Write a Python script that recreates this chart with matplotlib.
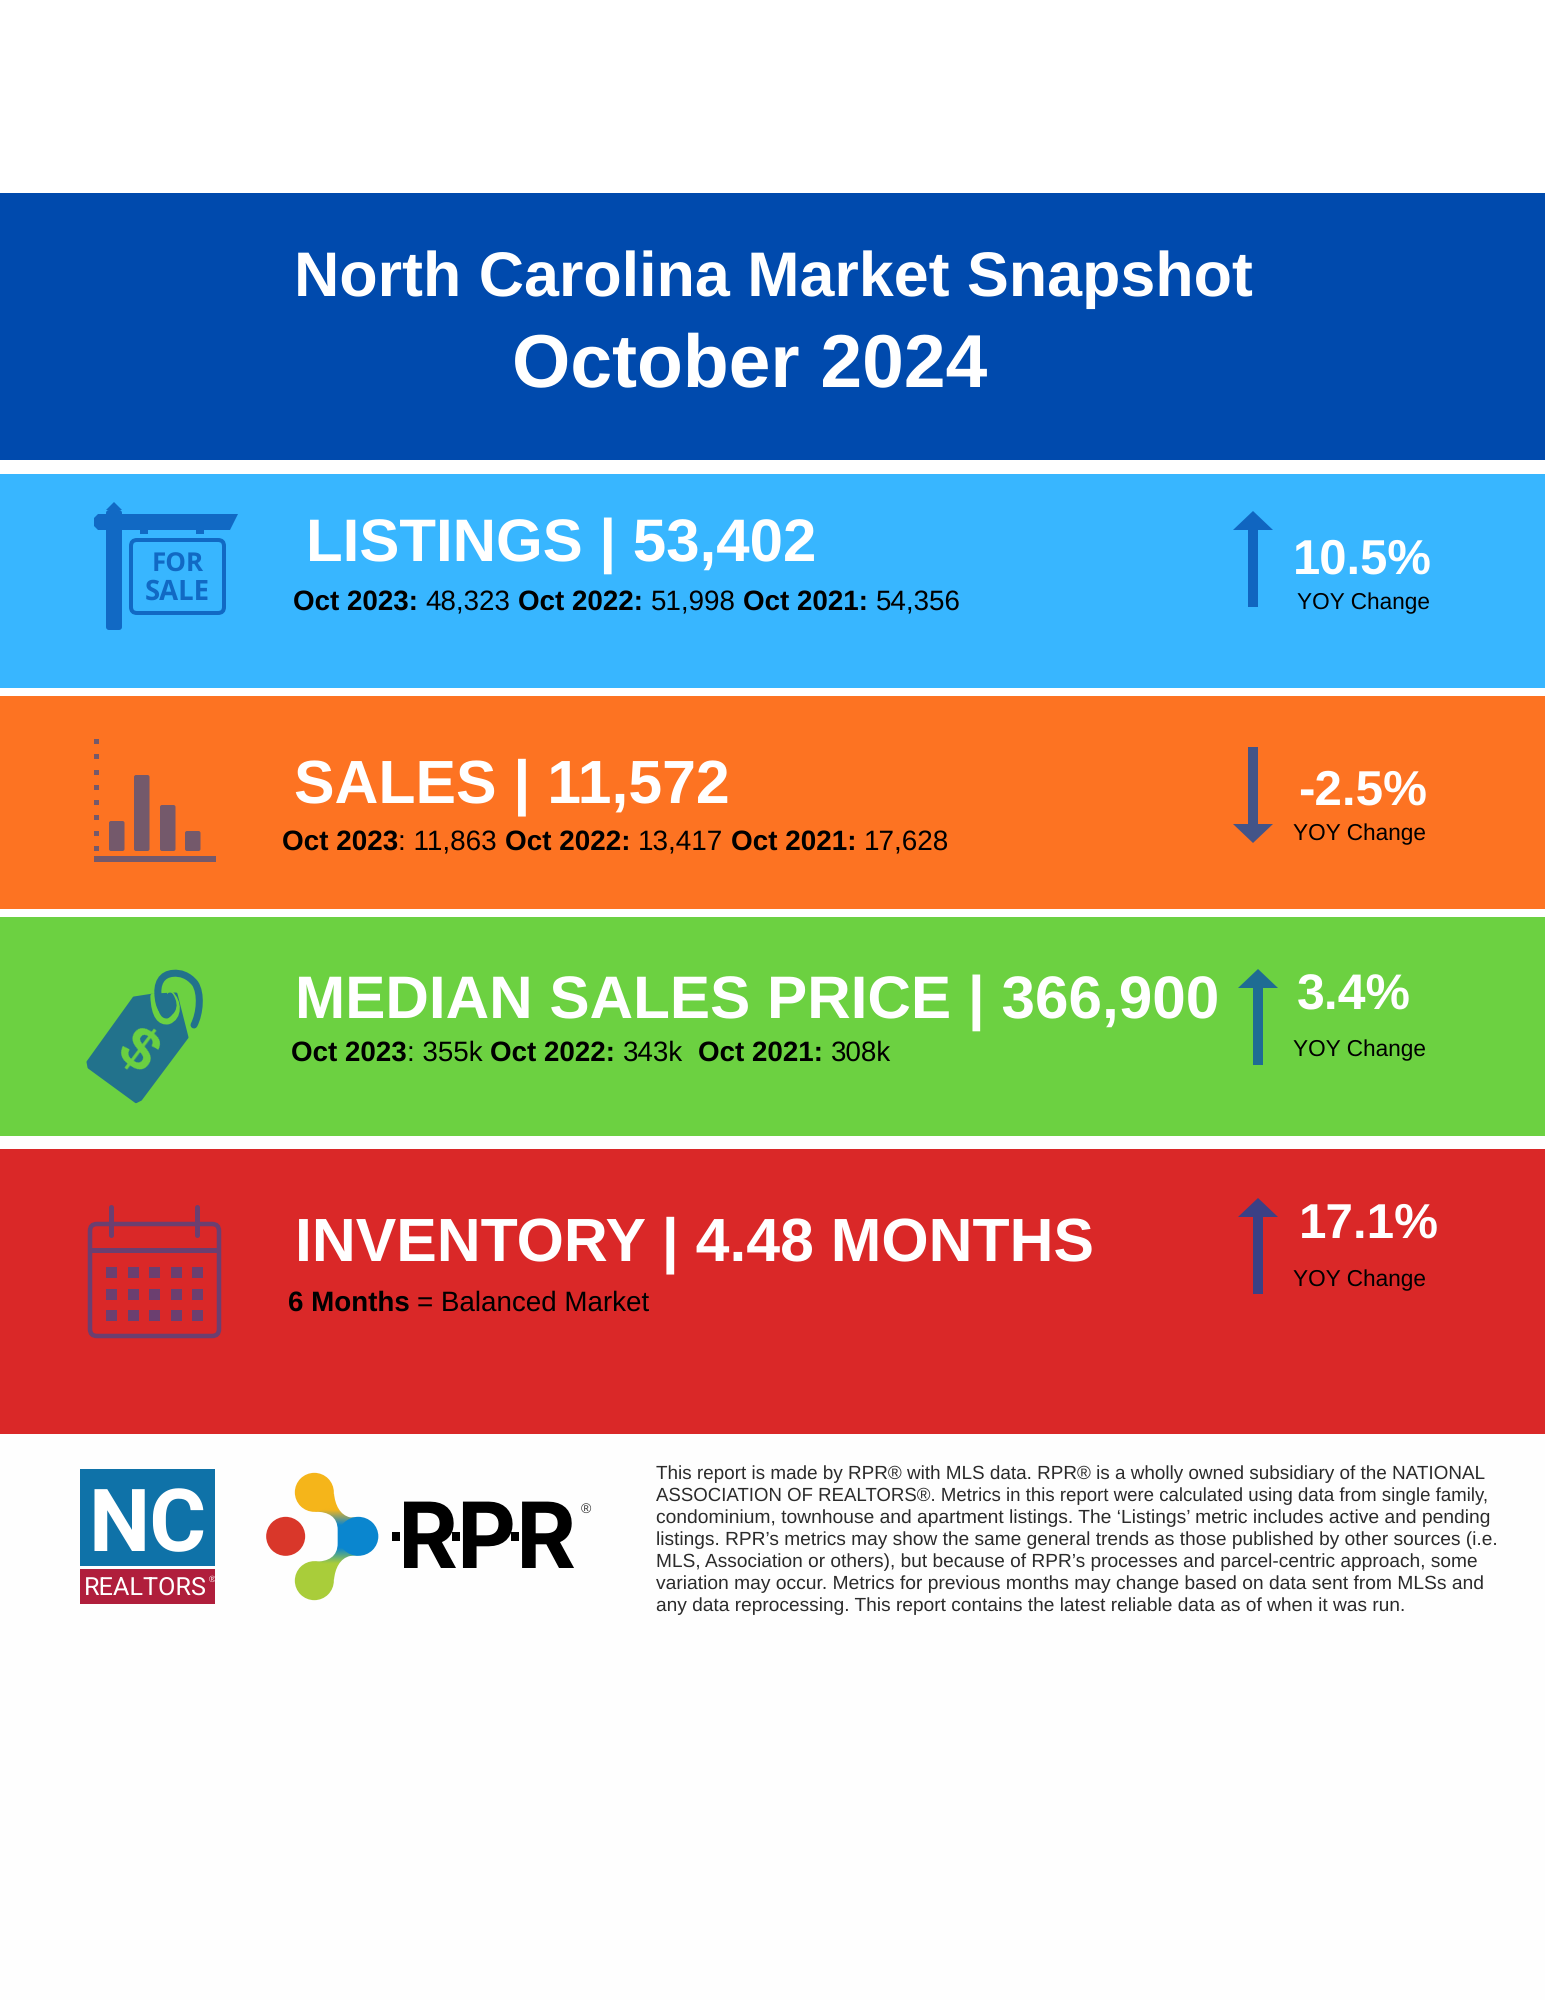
import matplotlib
matplotlib.use("Agg")
import numpy as np
import matplotlib.pyplot as plt
from matplotlib.font_manager import FontProperties
from matplotlib.colors import to_rgb
from matplotlib.patches import Rectangle, FancyBboxPatch, Polygon, Ellipse, PathPatch
from matplotlib.path import Path

# ---------- data ----------
title_line1 = "North Carolina Market Snapshot"
title_line2 = "October 2024"
metric_heads = ["LISTINGS | 53,402", "SALES | 11,572",
                "MEDIAN SALES PRICE | 366,900", "INVENTORY | 4.48 MONTHS"]
yoy_values = [10.5, -2.5, 3.4, 17.1]
yoy_caption = "YOY Change"
listings_runs = [("Oct 2023:", True), (" 48,323 ", False), ("Oct 2022:", True), (" 51,998 ", False),
                 ("Oct 2021:", True), (" 54,356", False)]
sales_runs = [("Oct 2023", True), (": 11,863 ", False), ("Oct 2022:", True), (" 13,417 ", False),
              ("Oct 2021:", True), (" 17,628", False)]
price_runs = [("Oct 2023", True), (": 355k ", False), ("Oct 2022:", True), (" 343k  ", False),
              ("Oct 2021:", True), (" 308k", False)]
inventory_runs = [("6 Months", True), (" = Balanced Market", False)]
footnote_lines = [
    "This report is made by RPR® with MLS data. RPR® is a wholly owned subsidiary of the NATIONAL",
    "ASSOCIATION OF REALTORS®. Metrics in this report were calculated using data from single family,",
    "condominium, townhouse and apartment listings. The ‘Listings’ metric includes active and pending",
    "listings. RPR’s metrics may show the same general trends as those published by other sources (i.e.",
    "MLS, Association or others), but because of RPR’s processes and parcel-centric approach, some",
    "variation may occur. Metrics for previous months may change based on data sent from MLSs and",
    "any data reprocessing. This report contains the latest reliable data as of when it was run.",
]

# ---------- style ----------
plt.rcParams["text.hinting"] = "none"
FONT = "Liberation Sans"
W, H = 1545, 2000
fig = plt.figure(figsize=(W / 100, H / 100), dpi=100, facecolor="white")
ax = fig.add_axes([0, 0, 1, 1])
ax.axis("off")
renderer = fig.canvas.get_renderer()

PX = 0.72  # points per pixel


def ink(s, px, bold=False, family=FONT):
    """Rendered width in pixels of s at a font size of px pixels."""
    fp = FontProperties(family=family, weight="bold" if bold else "normal", size=px * PX)
    return renderer.get_text_width_height_descent(s, fp, False)[0]


def advance(s, px, bold=False, family=FONT):
    return ink("|" + s + "|", px, bold, family) - ink("||", px, bold, family)


def put(s, x, y, px, bold=False, color="white", family=FONT, **kw):
    return ax.text(x, y, s, fontsize=px * PX, family=family, weight="bold" if bold else "normal",
                   color=color, ha=kw.pop("ha", "left"), va=kw.pop("va", "baseline"), zorder=5, **kw)


def fit_px(s, width, bold=False, family=FONT):
    px = 100 * width / ink(s, 100, bold, family)
    for _ in range(3):
        px *= width / ink(s, px, bold, family)
    return px


def fit(s, x0, x1, y, bold=False, color="white", family=FONT):
    px = fit_px(s, x1 - x0, bold, family)
    put(s, x0, y, px, bold, color, family)
    return px


def runs_line(runs, x0, x1, y, color="black"):
    px = 28.0
    for _ in range(4):
        px *= (x1 - x0) / sum(advance(s, px, b) for s, b in runs)
    x = x0
    for s, b in runs:
        lead = len(s) - len(s.lstrip(" "))
        skip = advance(" " * lead, px, b) if lead else 0
        put(s.lstrip(" ").rstrip(" "), x + skip, y, px, b, color)
        x += advance(s, px, b)


def rect(x0, y0, x1, y1, c, z=1):
    ax.add_patch(Rectangle((x0, y0), x1 - x0, y1 - y0, fc=c, ec="none", zorder=z))


def rrect(x0, y0, x1, y1, r, fc, ec="none", lw=0, z=3):
    ax.add_patch(FancyBboxPatch((x0 + r, y0 + r), x1 - x0 - 2 * r, y1 - y0 - 2 * r,
                                boxstyle=f"round,pad={r},rounding_size={r}", fc=fc, ec=ec,
                                lw=lw * PX, zorder=z))


def arrow(xc, top, bottom, up, c):
    hh, hw, sw = 19, 20, 5
    if up:
        pts = [(xc, top), (xc + hw, top + hh), (xc + sw, top + hh), (xc + sw, bottom),
               (xc - sw, bottom), (xc - sw, top + hh), (xc - hw, top + hh)]
    else:
        pts = [(xc, bottom), (xc + hw, bottom - hh), (xc + sw, bottom - hh), (xc + sw, top),
               (xc - sw, top), (xc - sw, bottom - hh), (xc - hw, bottom - hh)]
    ax.add_patch(Polygon(pts, closed=True, fc=c, ec="none", zorder=4))


# ---------- bands ----------
rect(0, 1434, W, H, "#fefefe", 0)
rect(0, 193, W, 460, "#004aad")
rect(0, 474, W, 688, "#38b6ff")
rect(0, 696, W, 909, "#fd7322")
rect(0, 917, W, 1136, "#6cd141")
rect(0, 1149, W, 1434, "#da2828")

# ---------- header ----------
fit(title_line1, 294, 1253, 296, True)
fit(title_line2, 512, 987, 387, True)

# ---------- metric heads ----------
fit(metric_heads[0], 306, 817, 561, True)
fit(metric_heads[1], 294, 730, 802, True)
fit(metric_heads[2], 295, 1221, 1018, True)
fit(metric_heads[3], 295, 1094, 1260, True)

runs_line(listings_runs, 293, 960, 610)
runs_line(sales_runs, 282, 947, 850)
runs_line(price_runs, 291, 891, 1061)
runs_line(inventory_runs, 288, 650, 1311)

# ---------- YOY column ----------
yoy_boxes = [(1293, 1432, 574), (1298, 1427, 805), (1297, 1411, 1009), (1299, 1439, 1238)]
cap_boxes = [(1297, 1430, 609), (1293, 1426, 840), (1293, 1426, 1056), (1293, 1426, 1286)]
arrow_boxes = [(1253, 511, 607, "#1065c0"), (1253, 747, 843, "#435488"),
               (1258, 969, 1065, "#1f6c93"), (1258, 1198, 1294, "#3b4085")]
for v, b, c, a in zip(yoy_values, yoy_boxes, cap_boxes, arrow_boxes):
    fit(f"{v}%", b[0], b[1], b[2], True)
    fit(yoy_caption, c[0], c[1], c[2], False, "black")
    arrow(a[0], a[1], a[2], v > 0, a[3])

# ---------- for-sale icon ----------
BL = "#1169c4"
rrect(106, 510, 122, 630, 3, BL)
ax.add_patch(Polygon([(106, 510), (114, 502), (122, 510)], closed=True, fc=BL, ec="none", zorder=3))
ax.add_patch(Polygon([(98, 514), (238, 514), (230, 530), (98, 530), (94, 526), (94, 518)],
                     closed=True, fc=BL, ec="none", zorder=3))
rect(140, 530, 148, 534, BL, 3)
rect(196, 530, 204, 534, BL, 3)
rrect(131, 540, 224, 613, 6, "none", BL, 4)
fit("FOR", 152, 204, 572, True, BL, "Open Sans")
fit("SALE", 145, 210, 600, True, BL, "Open Sans")

# ---------- chart icon ----------
GR = "#74596b"
for i in range(8):
    rect(94, 739 + i * 15.25, 99, 744 + i * 15.25, GR, 3)
for x0, top in [(109, 821), (134, 775), (160, 805), (185, 831)]:
    rrect(x0, top, x0 + 15.5, 851, 2, GR)
rect(94, 856, 216, 862, GR, 3)

# ---------- price tag icon ----------
TE = "#22728c"
GN = "#6cd141"


def z(x, y):
    return (70 + x / 3, 960 + y / 3)


tag = [z(*p) for p in [(192, 114), (250, 105), (318, 102), (351, 232), (212, 418), (198, 425),
                       (57, 322), (54, 306)]]
ax.add_patch(Polygon(tag, closed=True, fc=TE, ec=TE, lw=3 * PX, joinstyle="round", zorder=3))
halo = Path([z(300, 100), z(328, 125), z(328, 172), z(295, 184), z(272, 188), z(252, 170), z(250, 108)],
            [Path.MOVETO] + [Path.CURVE4] * 6)
ax.add_patch(PathPatch(halo, fc="none", ec=GN, lw=6 * PX, capstyle="round", zorder=4))
wire = Path([z(372, 195), z(390, 160), z(395, 100), z(375, 70), z(355, 45), z(330, 38), z(310, 40),
             z(275, 42), z(258, 70), z(265, 115), z(268, 150), z(290, 172), z(305, 150),
             z(312, 138), z(310, 125), z(300, 108)],
            [Path.MOVETO] + [Path.CURVE4] * 15)
ax.add_patch(PathPatch(wire, fc="none", ec=TE, lw=7 * PX, capstyle="round", zorder=5))
put("$", 136.5, 1052, 60, True, GN, ha="center", va="center", rotation=-37, rotation_mode="anchor")

# ---------- calendar icon ----------
PU = "#6b3f70"
rrect(90, 1224, 219, 1336, 7, "none", PU, 4.5)
rect(88, 1248, 221, 1253, PU, 3)
for xc in (111, 197):
    ax.plot([xc, xc], [1207, 1235], color=PU, lw=5 * PX, solid_capstyle="round", zorder=4)
for yy in (1267, 1288.5, 1310):
    for xx in (106, 127.5, 149, 171, 192):
        rect(xx, yy, xx + 11, yy + 11, PU, 3)

# ---------- NC Realtors logo ----------
rect(80, 1469, 215, 1566, "#0f72a8", 3)
rect(80, 1569, 215, 1604, "#b01e3c", 3)
fit("NC", 89, 207, 1551, True, "white", "Roboto")
fit("REALTORS", 84, 207, 1595, False, "white", "Roboto")
put("®", 209, 1582, 9, False, "white")


# ---------- RPR logo ----------
def r(x, y):
    return (260 + x / 3, 1460 + y / 3)


YE, GA, BU, RE = "#f5b51a", "#a9cd3a", "#0a86cf", "#d9372a"
ax.add_patch(Ellipse(r(77, 229), 39, 39, fc=RE, ec="none", zorder=3))
ax.add_patch(Ellipse(r(163, 97), 39, 39, fc=YE, ec="none", zorder=3))
ax.add_patch(Ellipse(r(163, 362), 39, 39, fc=GA, ec="none", zorder=3))
ax.add_patch(Ellipse(r(295, 229), 40, 39, fc=BU, ec="none", zorder=3))
neck = Path([r(222, 100), r(225, 135), r(240, 165), r(270, 172), r(295, 172), r(295, 286), r(270, 288),
             r(240, 295), r(225, 325), r(222, 360), r(165, 305), r(205, 305), r(233, 290), r(233, 250),
             r(233, 210), r(233, 170), r(205, 155), r(165, 155), r(222, 100)],
            [Path.MOVETO, Path.CURVE4, Path.CURVE4, Path.CURVE4, Path.LINETO, Path.LINETO, Path.LINETO,
             Path.CURVE4, Path.CURVE4, Path.CURVE4, Path.LINETO, Path.CURVE4, Path.CURVE4, Path.CURVE4,
             Path.LINETO, Path.CURVE4, Path.CURVE4, Path.CURVE4, Path.CLOSEPOLY])
neck_patch = PathPatch(neck, fc="none", ec="none", zorder=2.9)
ax.add_patch(neck_patch)
ys = np.linspace(0, 1, 200)
stop_pos = [0.0, 0.19, 0.37, 0.63, 0.81, 1.0]
stop_col = np.array([to_rgb(c) for c in (YE, YE, BU, BU, GA, GA)])
grad = np.stack([np.interp(ys, stop_pos, stop_col[:, k]) for k in range(3)], axis=1)[:, None, :]
im = ax.imshow(grad, extent=(r(160, 0)[0], r(300, 0)[0], r(0, 360)[1], r(0, 100)[1]),
               aspect="auto", zorder=2.9, interpolation="bilinear")
im.set_clip_path(neck_patch)

rpr_left, rpr_right = 398, 577
rpr_px = fit("RPR", rpr_left, rpr_right, 1568, True, "black", "Inter")
p_left = rpr_left + ink("R|", rpr_px, True, "Inter") - ink("|", rpr_px, True, "Inter")
r_left = rpr_left + ink("RP|", rpr_px, True, "Inter") - ink("|", rpr_px, True, "Inter")
for stem in (rpr_left, p_left, r_left):
    rect(stem - 6, 1532, stem + 2, 1541, "black", 6)
put("®", 586, 1513, 14, False, "#333333", ha="center")

# ---------- footnote ----------
line_ends = [1482, 1493, 1491, 1493, 1477, 1483, 1407]
for i, (s, e) in enumerate(zip(footnote_lines, line_ends)):
    fit(s, 656, e, 1479 + i * 22, False, "#2b2b2b")

ax.set_xlim(0, W)
ax.set_ylim(H, 0)
fig.savefig("out.png", dpi=100, facecolor="white")
